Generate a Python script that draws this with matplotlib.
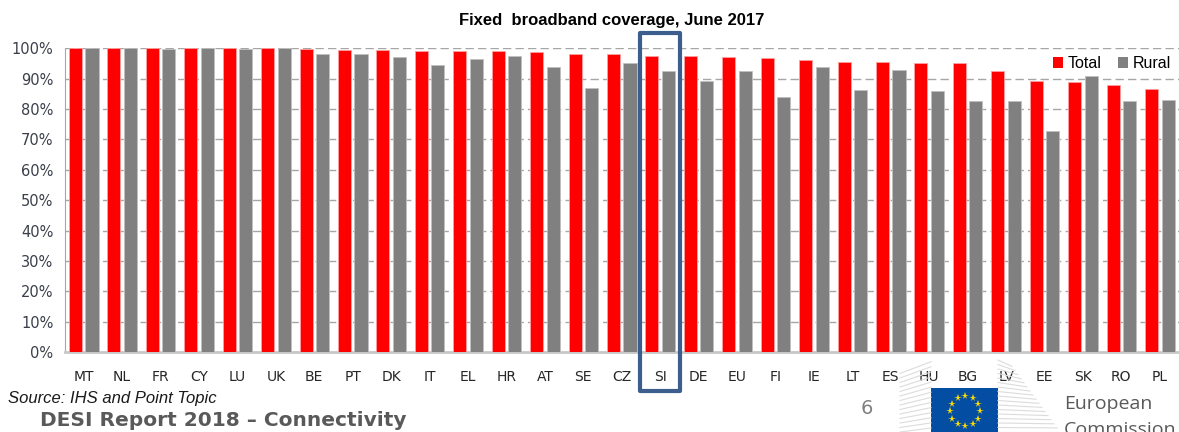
import matplotlib.pyplot as plt
import numpy as np
from matplotlib.patches import Rectangle
from matplotlib.ticker import FuncFormatter

countries = ["MT", "NL", "FR", "CY", "LU", "UK", "BE", "PT", "DK", "IT", "EL", "HR", "AT", "SE", "CZ",
             "SI", "DE", "EU", "FI", "IE", "LT", "ES", "HU", "BG", "LV", "EE", "SK", "RO", "PL"]
total = [100.0, 100.0, 100.0, 100.0, 100.0, 100.0, 99.9, 99.3, 99.3, 99.1, 99.1, 99.0, 98.8, 98.2, 98.2,
         97.6, 97.5, 97.2, 96.7, 96.3, 95.6, 95.4, 95.0, 95.0, 92.4, 89.3, 88.8, 87.9, 86.5]
rural = [100.0, 100.0, 99.8, 100.0, 99.8, 100.0, 98.0, 98.0, 97.2, 94.6, 96.4, 97.3, 94.0, 86.9, 95.2,
         92.4, 89.1, 92.4, 83.9, 94.0, 86.3, 92.8, 86.1, 82.5, 82.5, 72.7, 90.9, 82.7, 83.0]
highlight = "SI"

W, H = 1179, 432
fig = plt.figure(figsize=(W / 100, H / 100), dpi=100)
ax = fig.add_axes([64.5 / W, 80 / H, 1114.5 / W, 303.7 / H])

x = np.arange(len(countries))
tot = np.array(total) / 100
rur = np.array(rural) / 100
ax.bar(x - 0.215, tot, width=0.34, color="#ff0000", edgecolor="#ffa0a0", linewidth=0.6,
       label="Total", zorder=3)
ax.bar(x + 0.215, rur, width=0.34, color="#808080", edgecolor="#c0c0c0", linewidth=0.6,
       label="Rural", zorder=3)

ax.set_xlim(-0.5, len(countries) - 0.5)
ax.set_ylim(0, 1.0)
ax.set_yticks(np.arange(0, 1.01, 0.1))
ax.yaxis.set_major_formatter(FuncFormatter(lambda v, p: f"{v * 100:.0f}%"))
ax.set_xticks(x)
ax.set_xticklabels(countries)
ax.tick_params(axis="x", length=0, pad=13, labelsize=10, colors="#262626")
ax.tick_params(axis="y", length=0, pad=8, labelsize=10.5, colors="#3a3f4a")

ax.grid(axis="y", color="#a6a6a6", linestyle=(0, (6, 3)), linewidth=1, zorder=0)
for s in ["top", "right"]:
    ax.spines[s].set_visible(False)
ax.spines["left"].set_color("#a6a6a6")
ax.spines["bottom"].set_color("#c8c8c8")
ax.spines["bottom"].set_linewidth(2)

leg = ax.legend(loc="center right", bbox_to_anchor=(1.0, 0.95), ncol=2, frameon=False,
                handlelength=0.65, handleheight=0.65, handletextpad=0.3, columnspacing=1.0,
                borderaxespad=0.1, prop={"family": "Liberation Sans", "size": 11.5})
for h in leg.legend_handles:
    h.set_edgecolor("none")

# frame around Slovenia
i = countries.index(highlight)
box = Rectangle((i - 0.52, -0.128), 1.04, 1.178, fill=False, edgecolor="#3b5e8c", linewidth=3,
                joinstyle="round", clip_on=False, zorder=5)
ax.add_patch(box)

fig.text(612 / W, 1 - 21 / H, "Fixed  broadband coverage, June 2017", ha="center", va="center",
         fontsize=12, fontweight="bold", family="Liberation Sans")

# footer
fig.text(8 / W, 1 - 398 / H, "Source: IHS and Point Topic", ha="left", va="center",
         fontsize=12, style="italic", family="Liberation Sans", color="#1a1a1a")
fig.text(40 / W, 1 - 420 / H, "DESI Report 2018 \u2013 Connectivity", ha="left", va="center",
         fontsize=14.5, fontweight="bold", color="#595959")
fig.text(867 / W, 1 - 409 / H, "6", ha="center", va="center", fontsize=14, color="#808080")

# Commission logo: building lines, flag, name
for k in range(14):
    yy = 432 - k * 4.5
    fig.add_artist(plt.Line2D([900 / W, 931 / W], [1 - yy / H, 1 - (yy - 4 - k * 0.6) / H],
                              color="#dcdcdc", linewidth=0.8))
for k in range(17):
    yy = 432 - k * 4.5
    fig.add_artist(plt.Line2D([998 / W, (1060 - k * 3) / W], [1 - yy / H, 1 - (yy + k * 0.4) / H],
                              color="#dcdcdc", linewidth=0.8))
fig.add_artist(Rectangle((931 / W, 0), 67 / W, (432 - 388) / H, transform=fig.transFigure,
                         facecolor="#034ea2", edgecolor="none"))
ang = np.linspace(0, 2 * np.pi, 12, endpoint=False)
sx = (965 + 15 * np.cos(ang)) / W
sy = 1 - (411 + 15 * np.sin(ang)) / H
fig.add_artist(plt.Line2D(sx, sy, linestyle="none", marker="*", markersize=5.5,
                          color="#ffdd00", markeredgewidth=0))
fig.text(1064 / W, 1 - 404 / H, "European", ha="left", va="center", fontsize=14,
         family="Open Sans", color="#595959")
fig.text(1064 / W, 1 - 430 / H, "Commission", ha="left", va="center", fontsize=14,
         family="Open Sans", color="#595959")

fig.savefig("out.png", dpi=100)
